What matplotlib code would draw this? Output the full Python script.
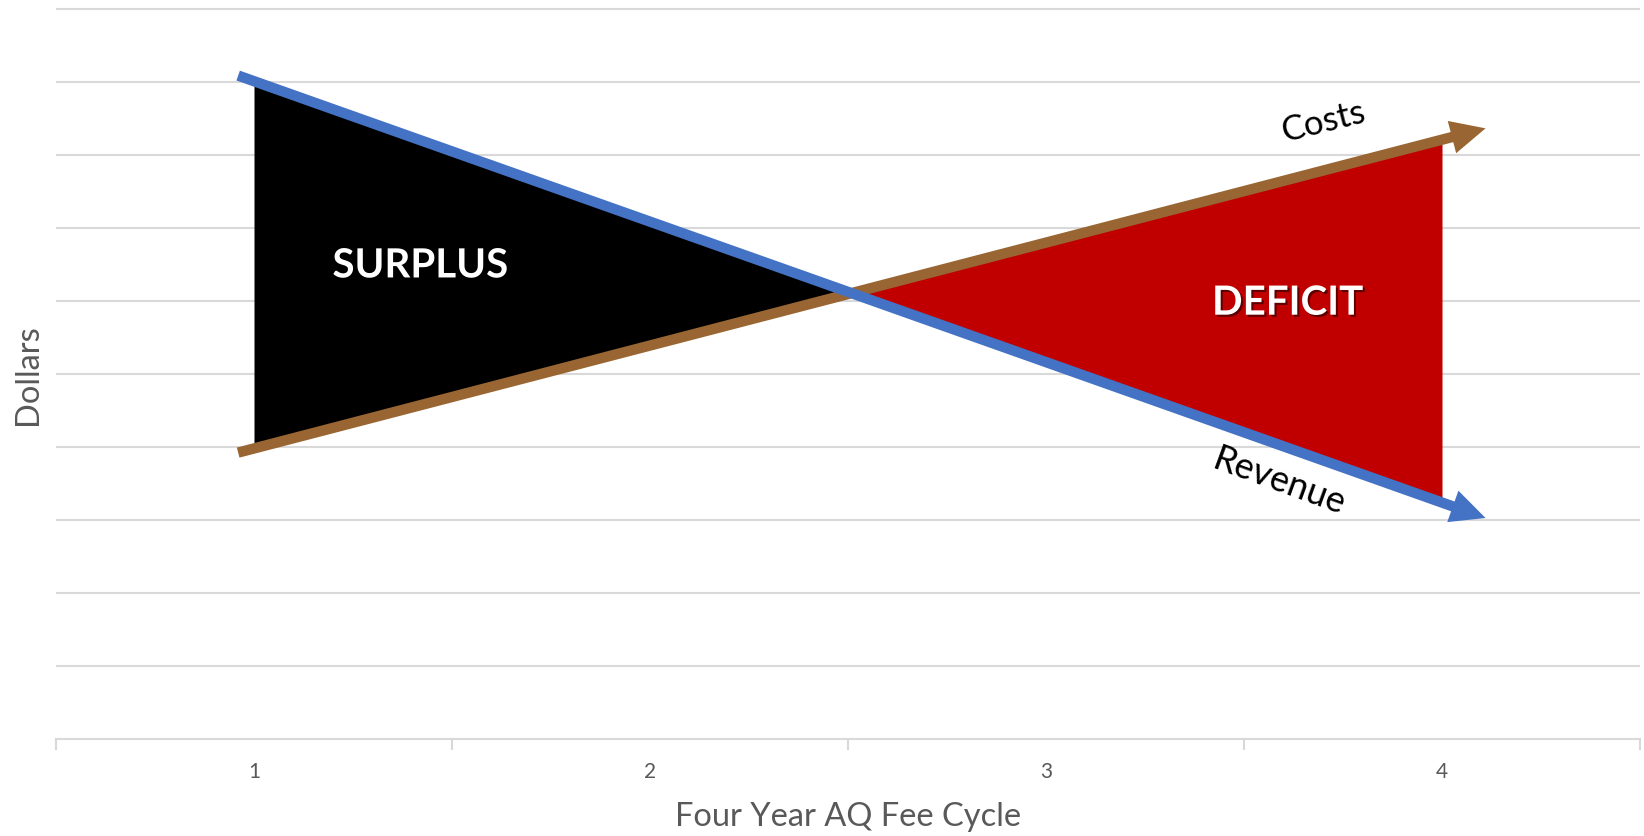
import numpy as np
import matplotlib
matplotlib.use("Agg")
import matplotlib.pyplot as plt
import matplotlib.patheffects as pe

# ---- data ----
categories = ["1", "2", "3", "4"]
cycle_year = [1, 2, 3, 4]
revenue = [9.01, 7.09, 5.16, 3.24]
costs = [3.98, 5.39, 6.80, 8.21]
x_label = "Four Year AQ Fee Cycle"
y_label = "Dollars"

plt.rcParams['font.family'] = ['Lato', 'DejaVu Sans']

W, H = 1644, 837
fig = plt.figure(figsize=(W / 100, H / 100), dpi=100)
ytop = 10.03
ax_left, ax_right, ax_bottom_px = 56, 1640, 740
ax_height_px = ax_bottom_px - (10 - (ytop - 10) * 73)
ax = fig.add_axes([ax_left / W, 1 - ax_bottom_px / H,
                   (ax_right - ax_left) / W, ax_height_px / H])
ax.set_xlim(0.5, 4.5)
ax.set_ylim(0, ytop)

grey = '#d9d9d9'
ax.set_yticks(np.arange(1, 11))
ax.yaxis.grid(True, color=grey, lw=1.5)
ax.set_axisbelow(True)
ax.tick_params(axis='y', length=0, labelleft=False)
for s in ['top', 'right', 'left']:
    ax.spines[s].set_visible(False)
ax.spines['bottom'].set_color(grey)
ax.spines['bottom'].set_linewidth(1.5)

ax.set_xticks(cycle_year)
ax.set_xticklabels(categories)
ax.set_xticks(np.arange(0.5, 4.6, 1.0), minor=True)
ax.tick_params(axis='x', which='major', length=0, pad=16, labelsize=15, labelcolor='#595959')
ax.tick_params(axis='x', which='minor', length=8, width=1.5, color=grey)

ax.set_xlabel(x_label, fontsize=23.5, color='#595959', labelpad=14)
ax.set_ylabel(y_label, fontsize=23.5, color='#595959')
ax.yaxis.set_label_coords(-(13) / (ax_right - ax_left), (740 - 375) / ax_height_px)

# ---- filled surplus / deficit regions ----
xs = np.linspace(cycle_year[0], cycle_year[-1], 601)
rev_i = np.interp(xs, cycle_year, revenue)
cost_i = np.interp(xs, cycle_year, costs)
ax.fill_between(xs, rev_i, cost_i, where=rev_i >= cost_i, interpolate=True,
                color='black', lw=0, zorder=2)
ax.fill_between(xs, rev_i, cost_i, where=rev_i <= cost_i, interpolate=True,
                color='#C00000', lw=0, zorder=2)

# ---- arrows (straight lines through the data, extended) ----
def arrow(vals, color, z):
    p = np.polyfit(cycle_year, vals, 1)
    x0, x1 = cycle_year[0] - 0.04, cycle_year[-1] + 0.11
    ax.annotate("", xy=(x1, np.polyval(p, x1)), xytext=(x0, np.polyval(p, x0)),
                arrowprops=dict(arrowstyle="simple,head_length=2.5,head_width=2.4,tail_width=0.75",
                                mutation_scale=10, fc=color, ec='none', lw=0,
                                shrinkA=0, shrinkB=0),
                zorder=z)

arrow(costs, '#996633', 4)
arrow(revenue, '#4472C4', 5)

shadow = [pe.withSimplePatchShadow(offset=(1.5, -1.5), shadow_rgbFace='black', alpha=0.5)]
ax.text(1.42, 6.48, "SURPLUS", color='white', fontsize=29, fontweight='bold',
        ha='center', va='center', zorder=6, path_effects=shadow)
ax.text(3.61, 5.97, "DEFICIT", color='white', fontsize=29, fontweight='bold',
        ha='center', va='center', zorder=6, path_effects=shadow)
ax.text(3.70, 8.47, "Costs", color='black', fontsize=25, rotation=14,
        ha='center', va='center', zorder=6)
ax.text(3.59, 3.54, "Revenue", color='black', fontsize=26, rotation=-20,
        ha='center', va='center', zorder=6)

fig.savefig("out.png", dpi=100)
